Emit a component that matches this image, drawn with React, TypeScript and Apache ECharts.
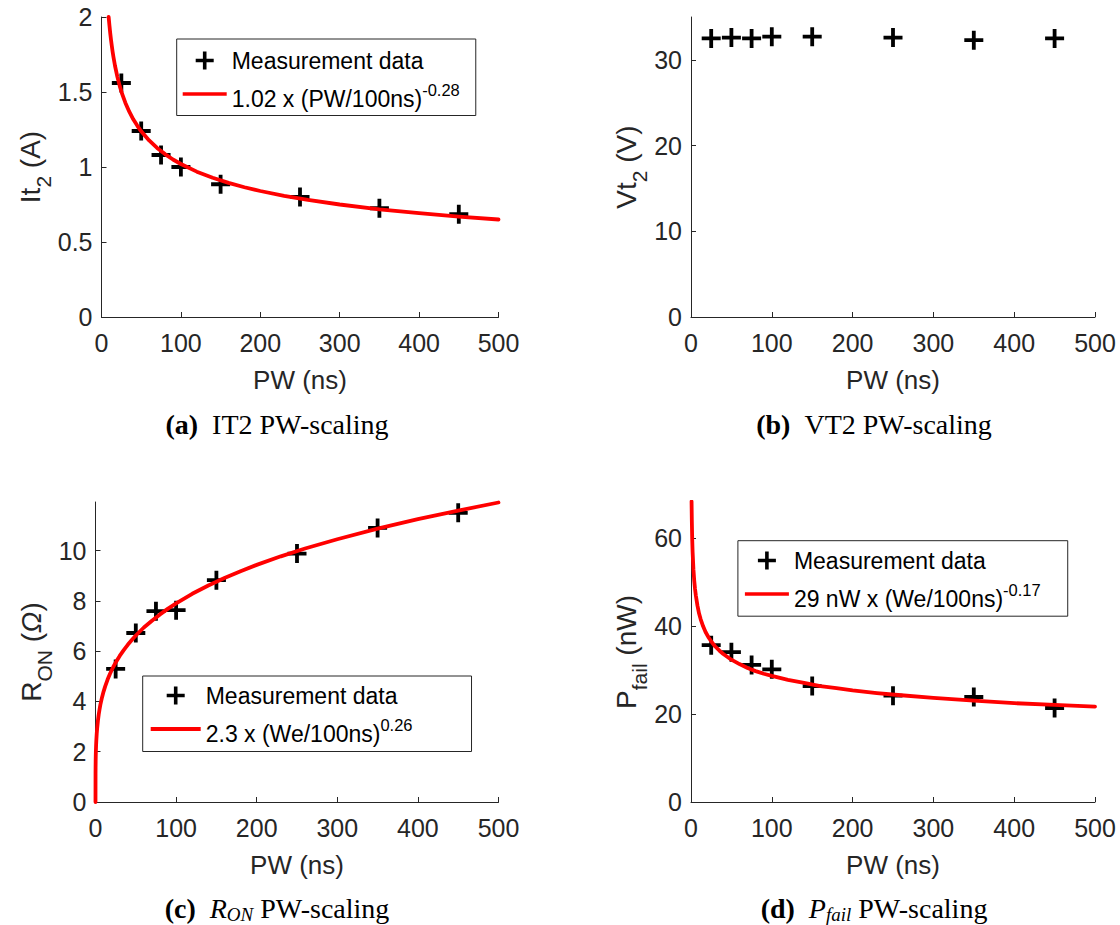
import React, { useEffect, useRef } from 'react';
import * as echarts from 'echarts';

// ---------------- data ----------------
const PW = [25, 50, 75, 100, 150, 250, 350, 450];
const IT2 = [1.56, 1.24, 1.08, 1.0, 0.885, 0.8, 0.725, 0.685];
const VT2 = [32.5, 32.6, 32.5, 32.7, 32.7, 32.6, 32.3, 32.5];
const RON = [5.29, 6.72, 7.59, 7.63, 8.82, 9.88, 10.9, 11.5];
const PFAIL = [35.7, 34.1, 31.2, 30.2, 26.4, 24.2, 23.9, 21.4];

const IT2_FIT_X = [9, 10, 11, 12, 13, 14, 15, 17, 20, 23, 26, 30, 35, 40, 45, 50, 60, 70, 80, 90, 100, 120, 140, 160, 180, 200, 230, 260, 300, 350, 400, 450, 500];
const IT2_FIT_Y = [2.0, 1.944, 1.892, 1.847, 1.806, 1.769, 1.735, 1.675, 1.601, 1.539, 1.487, 1.429, 1.369, 1.318, 1.276, 1.238, 1.177, 1.127, 1.086, 1.05, 1.02, 0.969, 0.928, 0.894, 0.865, 0.84, 0.808, 0.781, 0.75, 0.718, 0.692, 0.669, 0.65];

const RON_FIT_X = [0, 0.05, 0.1, 0.2, 0.3, 0.5, 0.75, 1, 1.5, 2, 3, 4, 5, 6, 8, 10, 12, 15, 18, 22, 26, 30, 35, 40, 45, 50, 60, 70, 80, 90, 100, 120, 140, 160, 180, 200, 230, 260, 300, 350, 400, 450, 500];
const RON_FIT_Y = [0, 1.14, 1.36, 1.62, 1.8, 2.05, 2.27, 2.44, 2.71, 2.91, 3.23, 3.48, 3.68, 3.86, 4.15, 4.39, 4.6, 4.87, 5.1, 5.37, 5.6, 5.81, 6.04, 6.25, 6.44, 6.62, 6.94, 7.21, 7.46, 7.69, 7.9, 8.28, 8.61, 8.91, 9.18, 9.43, 9.77, 10.08, 10.45, 10.87, 11.25, 11.59, 11.91];

const PFAIL_FIT_X = [0.7, 1, 1.5, 2, 3, 4, 5, 6, 8, 10, 12, 15, 18, 22, 26, 30, 35, 40, 50, 60, 70, 80, 90, 100, 120, 140, 160, 180, 200, 230, 260, 300, 350, 400, 450, 500];
const PFAIL_FIT_Y = [68.4, 64.3, 59.8, 56.9, 53.0, 50.4, 48.5, 47.0, 44.7, 42.9, 41.6, 40.0, 38.7, 37.4, 36.3, 35.4, 34.5, 33.7, 32.4, 31.4, 30.5, 29.8, 29.2, 28.7, 27.8, 27.1, 26.4, 25.9, 25.4, 24.8, 24.3, 23.7, 23.1, 22.5, 22.1, 21.7];

const X_TICKS = [0, 100, 200, 300, 400, 500];
const IT2_TICKS = [0, 0.5, 1, 1.5, 2];
const VT2_TICKS = [0, 10, 20, 30];
const RON_TICKS = [0, 2, 4, 6, 8, 10];
const PFAIL_TICKS = [0, 20, 40, 60];

const DATA_NAME = 'Measurement data';
const FIT_A = '1.02 x (PW/100ns)';
const FIT_A_EXP = '-0.28';
const FIT_C = '2.3 x (We/100ns)';
const FIT_C_EXP = '0.26';
const FIT_D = '29 nW x (We/100ns)';
const FIT_D_EXP = '-0.17';

// ---------------- styles ----------------
const SANS = '"Liberation Sans", Arial, Helvetica, sans-serif';
const SERIF = '"Liberation Serif", "Times New Roman", serif';
const AX = '#262626';
const PLUS = 'path://M4.8,0H7.2V4.8H12V7.2H7.2V12H4.8V7.2H0V4.8H4.8Z';
const LINE_ICON = 'path://M0,0H44V3.6H0Z';

const zip = (xs: number[], ys: number[]) => xs.map((x, i) => [x, ys[i]]);

function xAxis(gridIndex: number) {
  return {
    type: 'value',
    gridIndex,
    min: 0,
    max: 500,
    interval: 100,
    name: 'PW (ns)',
    nameLocation: 'middle',
    nameGap: 50,
    nameTextStyle: { fontSize: 26, fontFamily: SANS, color: AX },
    axisLine: { show: true, onZero: false, lineStyle: { color: AX, width: 1 } },
    axisTick: { show: true, inside: true, length: 5, lineStyle: { color: AX, width: 1 }, customValues: X_TICKS },
    axisLabel: { fontSize: 25, fontFamily: SANS, color: AX, margin: 13, customValues: X_TICKS },
    splitLine: { show: false },
  };
}

const NAME_RICH = {
  n: { fontFamily: SANS, fontSize: 28, lineHeight: 28, color: AX },
  it: { fontFamily: SANS, fontSize: 28, lineHeight: 28, color: AX, fontStyle: 'italic' },
  s: { fontFamily: SANS, fontSize: 21, lineHeight: 21, color: AX, padding: [26, 0, 0, 0] },
};

function yAxis(gridIndex: number, max: number, interval: number, ticks: number[], name: string, gap: number) {
  return {
    type: 'value',
    gridIndex,
    min: 0,
    max,
    interval,
    name,
    nameLocation: 'middle',
    nameGap: gap,
    nameTextStyle: { fontSize: 28, fontFamily: SANS, color: AX, rich: NAME_RICH },
    axisLine: { show: true, onZero: false, lineStyle: { color: AX, width: 1 } },
    axisTick: { show: true, inside: true, length: 5, lineStyle: { color: AX, width: 1 }, customValues: ticks },
    axisLabel: { fontSize: 25, fontFamily: SANS, color: AX, margin: 9, customValues: ticks },
    splitLine: { show: false },
  };
}

const LEG_RICH = {
  m: { fontFamily: SANS, fontSize: 23, lineHeight: 22, color: '#000' },
  n: { fontFamily: SANS, fontSize: 23, lineHeight: 22, color: '#000', padding: [9, 0, 0, 0] },
  sup: { fontFamily: SANS, fontSize: 16.5, lineHeight: 16, color: '#000', padding: [0, 0, 9, 0] },
};

const EXP: Record<string, string> = { [FIT_A]: FIT_A_EXP, [FIT_C]: FIT_C_EXP, [FIT_D]: FIT_D_EXP };

function legend(fit: string, left: number, top: number, itemWidth: number, padding: number[]) {
  return {
    orient: 'vertical',
    left,
    top,
    data: [
      { name: DATA_NAME, icon: PLUS },
      { name: fit, icon: LINE_ICON },
    ],
    itemWidth,
    itemHeight: 18,
    itemGap: 6,
    padding,
    borderColor: AX,
    borderWidth: 1,
    backgroundColor: '#ffffff',
    symbolKeepAspect: true,
    selectedMode: false,
    itemStyle: { opacity: 1 },
    formatter: (name: string) => (name === DATA_NAME ? `{m|${name}}` : `{n|${name}}{sup|${EXP[name]}}`),
    textStyle: { fontFamily: SANS, fontSize: 23, color: '#000', rich: LEG_RICH },
  };
}

function scatter(i: number, ys: number[]) {
  return {
    type: 'scatter',
    name: DATA_NAME,
    xAxisIndex: i,
    yAxisIndex: i,
    symbol: PLUS,
    symbolSize: 19,
    symbolKeepAspect: true,
    itemStyle: { color: '#000000', opacity: 1 },
    z: 2,
    data: zip(PW, ys),
  };
}

function fitLine(i: number, name: string, xs: number[], ys: number[]) {
  return {
    type: 'line',
    name,
    xAxisIndex: i,
    yAxisIndex: i,
    symbol: 'none',
    smooth: false,
    lineStyle: { color: '#ff0000', width: 3.8, join: 'round', cap: 'round' },
    itemStyle: { color: '#ff0000' },
    z: 3,
    data: zip(xs, ys),
  };
}

const CAP_RICH = {
  b: { fontFamily: SERIF, fontSize: 28, fontWeight: 'bold', lineHeight: 26, color: '#000' },
  n: { fontFamily: SERIF, fontSize: 28, lineHeight: 26, color: '#000' },
  i: { fontFamily: SERIF, fontSize: 28, fontStyle: 'italic', lineHeight: 26, color: '#000' },
  is: { fontFamily: SERIF, fontSize: 19, fontStyle: 'italic', lineHeight: 16, color: '#000', padding: [12, 0, 0, 0] },
};

function caption(x: number, y: number, text: string) {
  return {
    type: 'text',
    x,
    y,
    style: {
      text,
      align: 'center',
      verticalAlign: 'middle',
      fontFamily: SERIF,
      fontSize: 28,
      fill: '#000',
      rich: CAP_RICH,
    },
  };
}

export default function App() {
  const ref = useRef<HTMLDivElement>(null);
  useEffect(() => {
    document.body.style.margin = '0';
    const chart = echarts.init(ref.current!, null, { renderer: 'svg' });
    const option: any = {
      animation: false,
      backgroundColor: '#ffffff',
      grid: [
        { left: 101.5, top: 17, width: 397, height: 300, outerBoundsMode: 'none' },
        { left: 691, top: 17, width: 404, height: 300, outerBoundsMode: 'none' },
        { left: 95.5, top: 502, width: 403, height: 300, outerBoundsMode: 'none' },
        { left: 691, top: 502, width: 404, height: 300, outerBoundsMode: 'none' },
      ],
      xAxis: [xAxis(0), xAxis(1), xAxis(2), xAxis(3)],
      yAxis: [
        yAxis(0, 2, 0.5, IT2_TICKS, '{n|It}{s|2}{n| (A)}', 51),
        yAxis(1, 35, 10, VT2_TICKS, '{n|Vt}{s|2}{n| (V)}', 47),
        yAxis(2, 11.93, 2, RON_TICKS, '{n|R}{s|ON}{n| (}{it|Ω}{n|)}', 47),
        yAxis(3, 68.3, 20, PFAIL_TICKS, '{n|P}{s|fail}{n| (nW)}', 47),
      ],
      legend: [
        legend(FIT_A, 176.7, 39, 44, [10, 16, 5.5, 6]),
        legend(FIT_C, 142.7, 676, 50, [8, 59, 6.5, 8]),
        legend(FIT_D, 737.9, 540.7, 44, [8.3, 27, 6.2, 7]),
      ],
      series: [
        scatter(0, IT2),
        fitLine(0, FIT_A, IT2_FIT_X, IT2_FIT_Y),
        scatter(1, VT2),
        scatter(2, RON),
        fitLine(2, FIT_C, RON_FIT_X, RON_FIT_Y),
        scatter(3, PFAIL),
        fitLine(3, FIT_D, PFAIL_FIT_X, PFAIL_FIT_Y),
      ],
      graphic: [
        caption(277, 424, '{b|(a)}  {n|IT2 PW-scaling}'),
        caption(874, 424, '{b|(b)}  {n|VT2 PW-scaling}'),
        caption(277, 908, '{b|(c)}  {i|R}{is|ON} {n|PW-scaling}'),
        caption(874, 908, '{b|(d)}  {i|P}{is|fail} {n|PW-scaling}'),
      ],
    };
    chart.setOption(option);
    return () => chart.dispose();
  }, []);
  return <div ref={ref} style={{ width: 1120, height: 925 }} />;
}
